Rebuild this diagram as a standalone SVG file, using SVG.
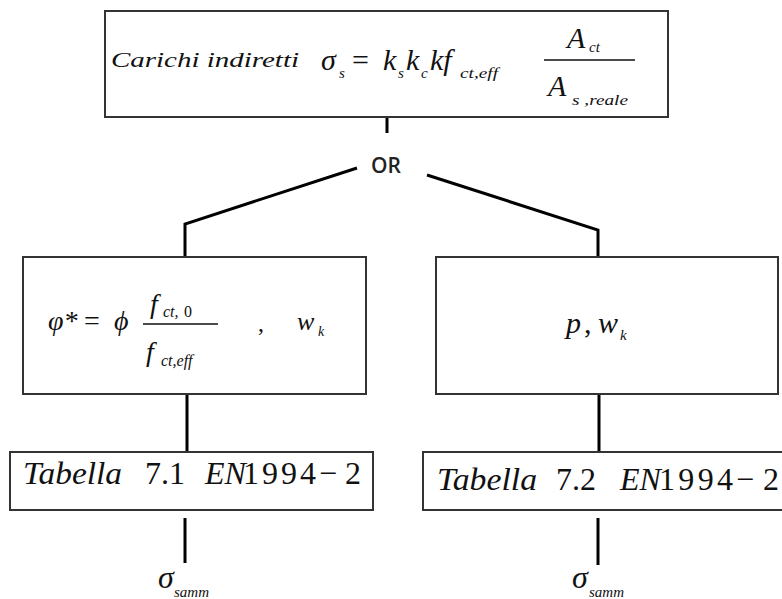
<svg xmlns="http://www.w3.org/2000/svg" width="782" height="599" viewBox="0 0 782 599">
<style>
.box{fill:#fff;stroke:#333;stroke-width:2}
.con{fill:none;stroke:#000;stroke-width:3}
text{fill:#111}
.i{font-style:italic}
.or{font-family:"Open Sans","Liberation Sans",sans-serif;font-size:21px;font-weight:600;fill:#222}
</style>
<rect width="782" height="599" fill="#fff"/>
<g id="connectors">
<path class="con" d="M387,117 V133"/>
<path class="con" d="M357,168 L185,224 V257"/>
<path class="con" d="M427,175 L598,230 V257"/>
<path class="con" d="M187,394 V452"/>
<path class="con" d="M599,394 V452"/>
<path class="con" d="M185,518 V563"/>
<path class="con" d="M598,518 V565"/>
</g>
<g id="or"><text class="or" x="386" y="173" text-anchor="middle">OR</text></g>
<g font-family="'Liberation Serif', 'DejaVu Serif', serif">
<g id="top">
<rect class="box" x="105" y="11" width="563" height="106"/>
<text class="i" x="111" y="67" font-size="22" textLength="188" lengthAdjust="spacingAndGlyphs">Carichi indiretti</text>
<text class="i" x="321" y="70" font-size="30">σ</text>
<text class="i" x="339" y="78" font-size="15">s</text>
<text x="352" y="70" font-size="30">=</text>
<text class="i" x="383" y="70" font-size="30">k</text>
<text class="i" x="398" y="78" font-size="15">s</text>
<text class="i" x="406" y="70" font-size="30">k</text>
<text class="i" x="421" y="78" font-size="15">c</text>
<text class="i" x="430" y="70" font-size="30">kf</text>
<text class="i" x="460" y="78" font-size="15" textLength="38" lengthAdjust="spacingAndGlyphs">ct,eff</text>
<line x1="544" y1="60" x2="635" y2="60" stroke="#111" stroke-width="1.5"/>
<text class="i" x="567" y="48" font-size="30">A</text>
<text class="i" x="589" y="52" font-size="15">ct</text>
<text class="i" x="548" y="96" font-size="30">A</text>
<text class="i" x="572" y="105" font-size="15" textLength="56" lengthAdjust="spacingAndGlyphs">s ,reale</text>
</g>
<g id="left">
<rect class="box" x="23" y="257" width="343" height="137"/>
<text class="i" x="48" y="330" font-size="28">φ*</text>
<text x="84" y="330" font-size="28">=</text>
<text class="i" x="114" y="330" font-size="28">ϕ</text>
<line x1="143" y1="324" x2="218" y2="324" stroke="#111" stroke-width="1.5"/>
<text class="i" x="150" y="313" font-size="28">f</text>
<text class="i" x="163" y="317" font-size="16">ct,</text>
<text x="184" y="317" font-size="16">0</text>
<text class="i" x="146" y="361" font-size="28">f</text>
<text class="i" x="161" y="366" font-size="16">ct,eff</text>
<text x="258" y="331" font-size="24">,</text>
<text class="i" x="297" y="330" font-size="26">w</text>
<text class="i" x="318" y="336" font-size="14">k</text>
</g>
<g id="right">
<rect class="box" x="436" y="257" width="342" height="137"/>
<text class="i" x="566" y="333" font-size="30">p</text>
<text x="584" y="333" font-size="30">,</text>
<text class="i" x="598" y="333" font-size="30">w</text>
<text class="i" x="620" y="340" font-size="15">k</text>
</g>
<g id="tab1">
<rect class="box" x="10" y="452" width="363" height="58"/>
<text class="i" x="23" y="484" font-size="32" textLength="99" lengthAdjust="spacingAndGlyphs">Tabella</text>
<text x="145" y="484" font-size="32">7.1</text>
<text class="i" x="205" y="484" font-size="32">EN</text>
<text x="243" y="484" font-size="32" textLength="73" lengthAdjust="spacing">1994</text>
<text x="319" y="484" font-size="32">−</text>
<text x="345" y="484" font-size="32">2</text>
</g>
<g id="tab2">
<rect class="box" x="423" y="452" width="370" height="58"/>
<text class="i" x="437" y="490" font-size="32" textLength="100" lengthAdjust="spacingAndGlyphs">Tabella</text>
<text x="556" y="490" font-size="32">7.2</text>
<text class="i" x="620" y="490" font-size="32">EN</text>
<text x="659" y="490" font-size="32" textLength="74" lengthAdjust="spacing">1994</text>
<text x="736" y="490" font-size="32">−</text>
<text x="763" y="490" font-size="32">2</text>
</g>
<g id="out1">
<text class="i" x="158" y="588" font-size="32">σ</text>
<text class="i" x="174" y="597" font-size="15">samm</text>
</g>
<g id="out2">
<text class="i" x="572" y="588" font-size="32">σ</text>
<text class="i" x="589" y="597" font-size="15">samm</text>
</g>
</g>
</svg>
